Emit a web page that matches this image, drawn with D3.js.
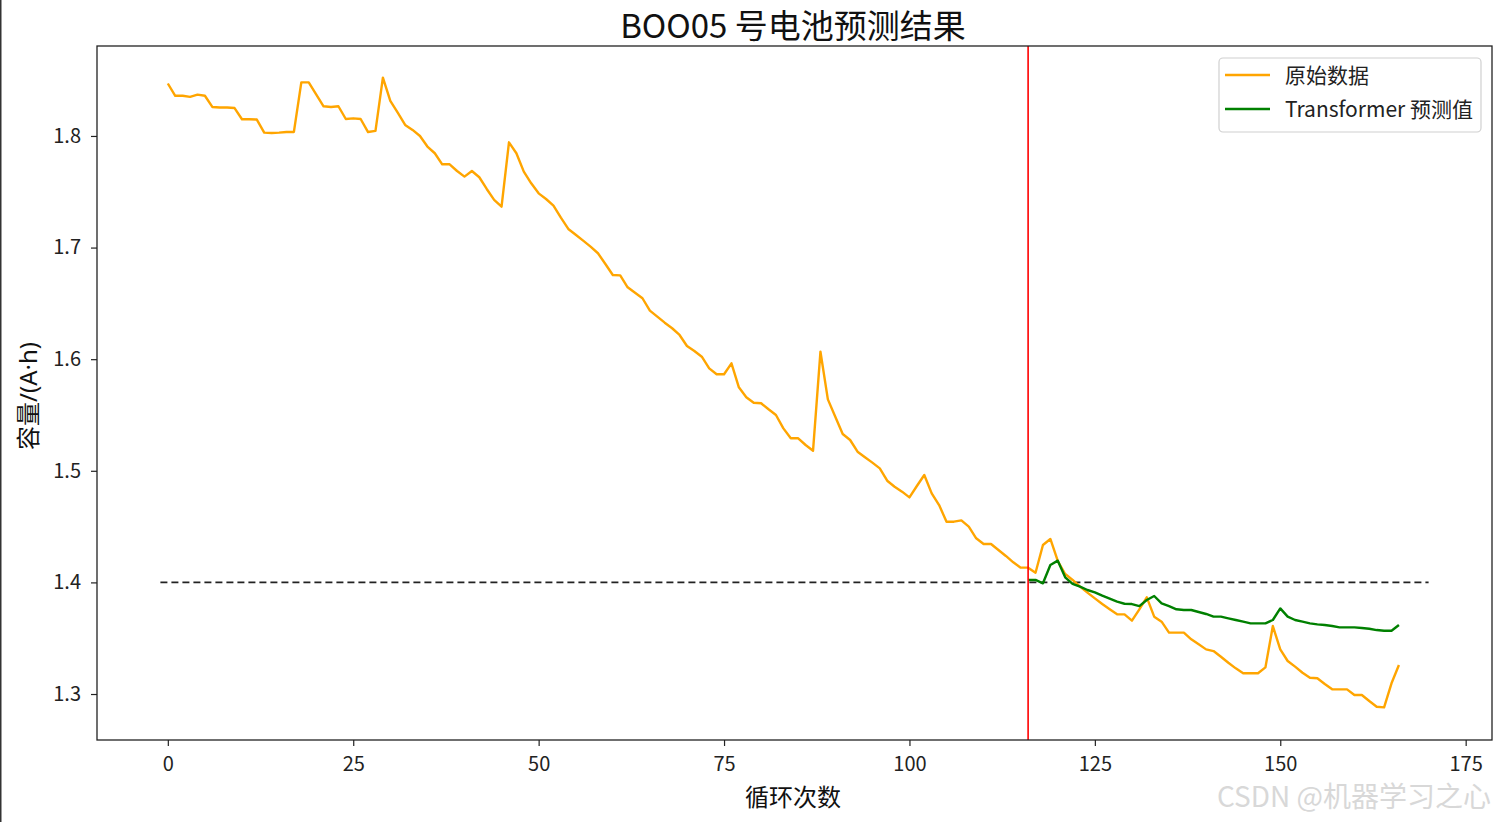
<!DOCTYPE html>
<html>
<head>
<meta charset="utf-8">
<script src="https://cdn.jsdelivr.net/npm/d3@7"></script>
<style>
  html, body { margin: 0; padding: 0; background: #fff; }
  svg { display: block; font-family: "Noto Sans CJK SC", "Noto Sans", sans-serif; }
</style>
</head>
<body>
<svg id="chart" width="1497" height="822"></svg>
<script>
// ---------------- data ----------------
const titleText = "BOO05 号电池预测结果";
const xLabel = "循环次数";
const yLabelCJK = "容量";
const yLabelLatin = "/(A·h)";
const seriesNames = ["原始数据", "Transformer 预测值"];
const xTicks = [0, 25, 50, 75, 100, 125, 150, 175];
const yTicks = [1.3, 1.4, 1.5, 1.6, 1.7, 1.8];
const splitCycle = 116;
const thresholdValue = 1.4;
const thresholdRange = [-1, 170];

const originalCapacity = [
  1.847, 1.836, 1.836, 1.835, 1.837, 1.836, 1.826, 1.8255, 1.8255, 1.825,
  1.815, 1.815, 1.8147, 1.803, 1.8027, 1.803, 1.8036, 1.8036, 1.848, 1.848,
  1.8373, 1.8266, 1.826, 1.8266, 1.8152, 1.8158, 1.8152, 1.8035, 1.8045, 1.8523,
  1.8314, 1.8209, 1.8099, 1.8054, 1.800, 1.7905, 1.7845, 1.7746, 1.7746, 1.7686,
  1.7636, 1.7686, 1.763, 1.7525, 1.7427, 1.7367, 1.7943, 1.7845, 1.768, 1.7576,
  1.7486, 1.7435, 1.7376, 1.7268, 1.7167, 1.7115, 1.7062, 1.7008, 1.6949, 1.6853,
  1.6754, 1.6751, 1.6644, 1.6596, 1.6546, 1.6435, 1.6381, 1.6327, 1.6277, 1.6217,
  1.6118, 1.6073, 1.6022, 1.5918, 1.5865, 1.5865, 1.5963, 1.5748, 1.5659, 1.561,
  1.5605, 1.5551, 1.55, 1.538, 1.5291, 1.5291, 1.5231, 1.518, 1.6067, 1.564,
  1.5485, 1.533, 1.5276, 1.5171, 1.5121, 1.5073, 1.5022, 1.4911, 1.4857, 1.4813,
  1.4762, 1.4864, 1.4962, 1.4798, 1.4693, 1.4544, 1.4544, 1.4556, 1.4499, 1.4395,
  1.4344, 1.4344, 1.429, 1.4237, 1.418, 1.4132, 1.4132, 1.4087, 1.4335, 1.4389,
  1.4192, 1.4075, 1.4022, 1.3962, 1.3908, 1.3857, 1.3806, 1.3759, 1.3714, 1.3714,
  1.3657, 1.3759, 1.3866, 1.3693, 1.3648, 1.355, 1.355, 1.355, 1.349, 1.3445,
  1.34, 1.3385, 1.3334, 1.328, 1.323, 1.3186, 1.3186, 1.3186, 1.3239, 1.3609,
  1.34, 1.3296, 1.3245, 1.3191, 1.3146, 1.3141, 1.309, 1.3042, 1.3042, 1.3042,
  1.2991, 1.2991, 1.2937, 1.2886, 1.288, 1.3096, 1.326
];

const predictedCapacity = [
  1.4022, 1.4022, 1.3992, 1.4156, 1.4195, 1.4046, 1.3986, 1.3962, 1.3932, 1.3911,
  1.3881, 1.3854, 1.3827, 1.3809, 1.3806, 1.3788, 1.3842, 1.3878, 1.3812, 1.3788,
  1.3759, 1.3753, 1.3753, 1.3735, 1.3717, 1.3693, 1.3693, 1.3678, 1.3663, 1.3648,
  1.3633, 1.3633, 1.3633, 1.3663, 1.3767, 1.3693, 1.3663, 1.3648, 1.3633, 1.3624,
  1.3618, 1.3609, 1.3597, 1.3597, 1.3597, 1.3591, 1.3585, 1.3573, 1.3567, 1.3567,
  1.3618
];

// ---------------- layout ----------------
const W = 1497, H = 822;
const m = { left: 97, top: 46, right: 1492, bottom: 740 };
const svg = d3.select("#chart");

const x = d3.scaleLinear().domain([-9.55, 178.55]).range([m.left, m.right]);
const y = d3.scaleLinear().domain([1.2588, 1.8806]).range([m.bottom, m.top]);

// left screenshot edge
svg.append("line").attr("x1", 0.75).attr("x2", 0.75).attr("y1", 0).attr("y2", H)
  .attr("stroke", "#333").attr("stroke-width", 1.5);

// axes
const xAxis = svg.append("g").attr("transform", `translate(0,${m.bottom})`)
  .call(d3.axisBottom(x).tickValues(xTicks).tickFormat(d3.format("d")).tickSize(6).tickPadding(11));
const yAxis = svg.append("g").attr("transform", `translate(${m.left},0)`)
  .call(d3.axisLeft(y).tickValues(yTicks).tickFormat(d3.format(".1f")).tickSize(6).tickPadding(10));
[xAxis, yAxis].forEach(g => {
  g.select(".domain").remove();
  g.selectAll(".tick line").attr("stroke", "#222").attr("stroke-width", 1.2);
  g.selectAll(".tick text").attr("fill", "#222").style("font-size", "20px")
    .style("font-family", '"Noto Sans CJK SC", sans-serif');
});

// clip
svg.append("clipPath").attr("id", "clip").append("rect")
  .attr("x", m.left).attr("y", m.top).attr("width", m.right - m.left).attr("height", m.bottom - m.top);
const plot = svg.append("g").attr("clip-path", "url(#clip)");

// threshold dashed line
plot.append("line")
  .attr("x1", x(thresholdRange[0])).attr("x2", x(thresholdRange[1]))
  .attr("y1", y(thresholdValue)).attr("y2", y(thresholdValue))
  .attr("stroke", "#222").attr("stroke-width", 1.6).attr("stroke-dasharray", "7,4");

const line = d3.line().x(d => x(d[0])).y(d => y(d[1]));

plot.append("path")
  .datum(originalCapacity.map((v, i) => [i, v]))
  .attr("d", line).attr("fill", "none").attr("stroke", "orange")
  .attr("stroke-width", 2.4).attr("stroke-linejoin", "round");

plot.append("path")
  .datum(predictedCapacity.map((v, i) => [splitCycle + i, v]))
  .attr("d", line).attr("fill", "none").attr("stroke", "green")
  .attr("stroke-width", 2.4).attr("stroke-linejoin", "round");

// split line
plot.append("line")
  .attr("x1", x(splitCycle)).attr("x2", x(splitCycle))
  .attr("y1", m.top).attr("y2", m.bottom)
  .attr("stroke", "red").attr("stroke-width", 1.6);

// frame
svg.append("rect").attr("x", m.left).attr("y", m.top)
  .attr("width", m.right - m.left).attr("height", m.bottom - m.top)
  .attr("fill", "none").attr("stroke", "#222").attr("stroke-width", 1.3);

// title & labels
svg.append("text").attr("x", 793).attr("y", 38)
  .attr("text-anchor", "middle").style("font-size", "33px").attr("fill", "#111").text(titleText);
svg.append("text").attr("x", 793).attr("y", 806)
  .attr("text-anchor", "middle").style("font-size", "24px").attr("fill", "#111").text(xLabel);
const yl = svg.append("text").attr("transform", "translate(37,396) rotate(-90)")
  .attr("text-anchor", "middle").style("font-size", "24px").attr("fill", "#111");
yl.append("tspan").text(yLabelCJK);
yl.append("tspan").style("font-family", '"Noto Sans", sans-serif').text(yLabelLatin);

// legend
const lg = svg.append("g");
lg.append("rect").attr("x", 1219).attr("y", 58).attr("width", 262).attr("height", 74)
  .attr("rx", 4).attr("fill", "#fff").attr("fill-opacity", 0.8).attr("stroke", "#d0d0d0").attr("stroke-width", 1.2);
const lgColors = ["orange", "green"];
seriesNames.forEach((name, i) => {
  const yy = 75 + i * 34;
  lg.append("line").attr("x1", 1225).attr("x2", 1270).attr("y1", yy).attr("y2", yy)
    .attr("stroke", lgColors[i]).attr("stroke-width", 2.4);
  lg.append("text").attr("x", 1285).attr("y", yy + 8).style("font-size", "21px")
    .attr("fill", "#222").text(name);
});

// watermark
svg.append("text").attr("x", 1491).attr("y", 807).attr("text-anchor", "end")
  .style("font-size", "28px").attr("fill", "#d8d8d8").text("CSDN @机器学习之心");
</script>
</body>
</html>
